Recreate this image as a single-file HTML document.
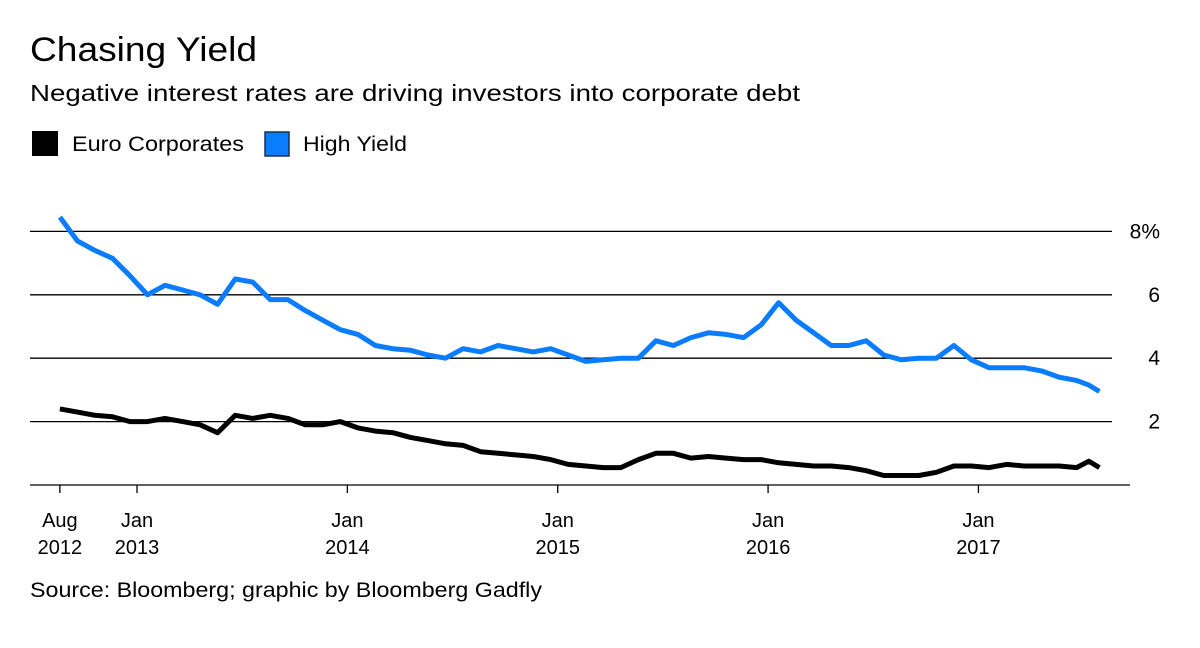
<!DOCTYPE html>
<html><head><meta charset="utf-8">
<style>
body{margin:0;background:#fff;font-family:"Liberation Sans",sans-serif;}
svg{display:block}
</style></head>
<body>
<svg width="1200" height="648" viewBox="0 0 1200 648">
<text x="30" y="61" font-size="34" textLength="227" lengthAdjust="spacingAndGlyphs" fill="#000">Chasing Yield</text>
<text x="30" y="101" font-size="23" textLength="770" lengthAdjust="spacingAndGlyphs" fill="#000">Negative interest rates are driving investors into corporate debt</text>
<g>
<g>
<rect x="32" y="131" width="26" height="25" fill="#000"/>
<text x="72" y="151" font-size="21" textLength="172" lengthAdjust="spacingAndGlyphs">Euro Corporates</text></g>
<g>
<rect x="265" y="132" width="24" height="24" fill="#0a7cff" stroke="#1a3050" stroke-width="1.5"/>
<text x="303" y="151" font-size="21" textLength="104" lengthAdjust="spacingAndGlyphs">High Yield</text></g>
</g>
<g id="grid"></g>
<g id="xaxis"></g>
<g id="series"></g>
<text x="30" y="597" font-size="21" textLength="512" lengthAdjust="spacingAndGlyphs">Source: Bloomberg; graphic by Bloomberg Gadfly</text>
</svg>
<script>
const months=[0.6,1.6,2.6,3.6,4.6,5.6,6.6,7.6,8.6,9.6,10.6,11.6,12.6,13.6,14.6,15.6,16.6,17.6,18.6,19.6,20.6,21.6,22.6,23.6,24.6,25.6,26.6,27.6,28.6,29.6,30.6,31.6,32.6,33.6,34.6,35.6,36.6,37.6,38.6,39.6,40.6,41.6,42.6,43.6,44.6,45.6,46.6,47.6,48.6,49.6,50.6,51.6,52.6,53.6,54.6,55.6,56.6,57.6,58.6,59.3,59.9];
const highYield=[8.45,7.7,7.4,7.15,6.6,6.0,6.3,6.15,6.0,5.7,6.5,6.4,5.85,5.85,5.5,5.2,4.9,4.75,4.4,4.3,4.25,4.1,4.0,4.3,4.2,4.4,4.3,4.2,4.3,4.1,3.9,3.95,4.0,4.0,4.55,4.4,4.65,4.8,4.75,4.65,5.05,5.75,5.2,4.8,4.4,4.4,4.55,4.1,3.95,4.0,4.0,4.4,3.95,3.7,3.7,3.7,3.6,3.4,3.3,3.15,2.95];
const euroCorp=[2.4,2.3,2.2,2.15,2.0,2.0,2.1,2.0,1.9,1.65,2.2,2.1,2.2,2.1,1.9,1.9,2.0,1.8,1.7,1.65,1.5,1.4,1.3,1.25,1.05,1.0,0.95,0.9,0.8,0.65,0.6,0.55,0.55,0.8,1.0,1.0,0.85,0.9,0.85,0.8,0.8,0.7,0.65,0.6,0.6,0.55,0.45,0.3,0.3,0.3,0.4,0.6,0.6,0.55,0.65,0.6,0.6,0.6,0.55,0.75,0.55];
const yTicks=[2,4,6,8];
const yTickLabels=["2","4","6","8%"];
const xTickMonths=[0.6,5,17,29,41,53];
const xTickLabels=[["Aug","2012"],["Jan","2013"],["Jan","2014"],["Jan","2015"],["Jan","2016"],["Jan","2017"]];
const NS="http://www.w3.org/2000/svg";
const x=m=>137+(m-5)*17.53;
const y=v=>485-v*31.7;
function mk(t,a,p){const e=document.createElementNS(NS,t);for(const k in a)e.setAttribute(k,a[k]);p.appendChild(e);return e;}
const grid=document.getElementById('grid');
yTicks.forEach((v,i)=>{
 const l=mk('line',{x1:30,x2:1112,y1:y(v),y2:y(v),stroke:'#000','stroke-width':1.3},grid);
 
 
 const t=mk('text',{x:1160,y:y(v)+7,'font-size':21,'text-anchor':'end'},grid);
 t.textContent=yTickLabels[i];
 
 
});
const xa=document.getElementById('xaxis');
const base=mk('line',{x1:30,x2:1130,y1:485,y2:485,stroke:'#000','stroke-width':1.3},xa);


xTickMonths.forEach((m,i)=>{
 const tk=mk('line',{x1:x(m),x2:x(m),y1:485,y2:493,stroke:'#000','stroke-width':1.3},xa);
 
 
 xTickLabels[i].forEach((s,j)=>{
  const t=mk('text',{x:x(m),y:527+j*27,'font-size':20,'text-anchor':'middle'},xa);
  t.textContent=s;
  
  
 });
});
const sg=document.getElementById('series');
function line(vals,color,name){
 const d=vals.map((v,i)=>(i?'L':'M')+x(months[i]).toFixed(1)+' '+y(v).toFixed(1)).join(' ');
 const p=mk('path',{d:d,fill:'none',stroke:color,'stroke-width':5,'stroke-linejoin':'round'},sg);
 
 
}
line(euroCorp,'#000','euro-corporates-line');
line(highYield,'#0a7cff','high-yield-line');
</script>
</body></html>
